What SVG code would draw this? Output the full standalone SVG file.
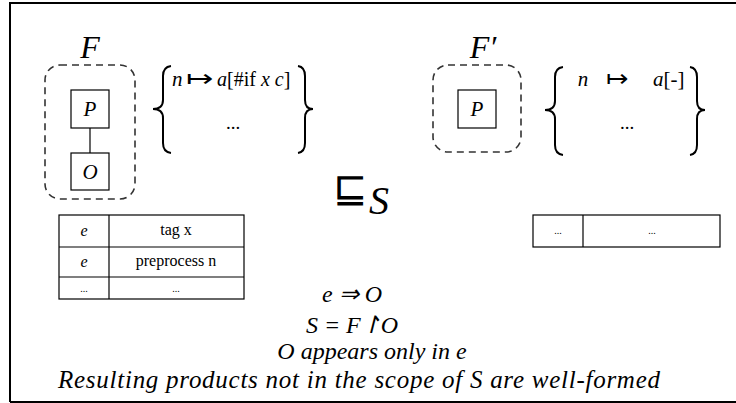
<svg xmlns="http://www.w3.org/2000/svg" width="736" height="403" viewBox="0 0 736 403">
<style>
.dash{fill:none;stroke:#333;stroke-width:1.6;stroke-dasharray:7,5}
.box{fill:#fff;stroke:#000;stroke-width:1.2}
.brace{fill:none;stroke:#000;stroke-width:2}
.it{font-family:"Liberation Serif",serif;font-style:italic;fill:#000}
.rm{font-family:"Liberation Serif",serif;fill:#000}
.cell{fill:#fff;stroke:#000;stroke-width:1.2}
.ln{stroke:#000;stroke-width:1.2}
</style>
<rect x="0" y="0" width="736" height="403" fill="#fff"/>
<path d="M10,402 V3 H736 M10,402 H736" fill="none" stroke="#000" stroke-width="2"/>

<g id="F">
<rect class="dash" x="45" y="65" width="90" height="134" rx="15"/>
<text class="it" x="90" y="58" font-size="32" text-anchor="middle">F</text>
</g>
<g id="connectors">
<line class="ln" x1="90" y1="128" x2="90" y2="153"/>
</g>
<g id="P1">
<rect class="box" x="71" y="90" width="38" height="38"/>
<text class="it" x="90" y="116" font-size="21" text-anchor="middle">P</text>
</g>
<g id="O1">
<rect class="box" x="71" y="153" width="38" height="37"/>
<text class="it" x="90" y="179" font-size="21" text-anchor="middle">O</text>
</g>

<g id="map1">
<path class="brace" d="M171,66 Q163,67 163,76 V100 Q163,109 153,109 Q163,109 163,118 V143 Q163,152 171,153"/>
<path class="brace" d="M298,66 Q305,67 305,76 V100 Q305,109 313,109 Q305,109 305,118 V143 Q305,152 298,153"/>
<text class="it" x="172" y="86" font-size="21">n</text>
<text class="rm" x="186" y="86" font-size="21" textLength="28" lengthAdjust="spacingAndGlyphs">↦</text>
<text class="rm" x="217" y="86" font-size="20"><tspan class="it">a</tspan>[#if <tspan class="it">x c</tspan>]</text>
<text class="rm" x="233" y="129" font-size="19" text-anchor="middle">...</text>
</g>

<g id="F2">
<rect class="dash" x="433" y="65" width="88" height="87" rx="15"/>
<text class="it" x="483" y="58" font-size="32" text-anchor="middle">F′</text>
</g>
<g id="P2">
<rect class="box" x="458" y="90" width="38" height="38"/>
<text class="it" x="477" y="116" font-size="21" text-anchor="middle">P</text>
</g>

<g id="map2">
<path class="brace" d="M563,67 Q555,68 555,77 V101 Q555,110 545,110 Q555,110 555,119 V145 Q555,154 563,155"/>
<path class="brace" d="M690,67 Q697,68 697,77 V101 Q697,110 705,110 Q697,110 697,119 V145 Q697,154 690,155"/>
<text class="it" x="583" y="86" font-size="21" text-anchor="middle">n</text>
<text class="rm" x="606" y="86" font-size="21" textLength="23" lengthAdjust="spacingAndGlyphs">↦</text>
<text class="rm" x="653" y="86" font-size="21"><tspan class="it">a</tspan>[-]</text>
<text class="rm" x="627" y="129" font-size="19" text-anchor="middle">...</text>
</g>

<g id="rel">
<text class="rm" x="333" y="202" font-size="41">⊑</text>
<text class="it" x="369" y="214" font-size="40">S</text>
</g>

<g id="table1">
<rect class="cell" x="59" y="215" width="185" height="84"/>
<line class="ln" x1="109" y1="215" x2="109" y2="299"/>
<line class="ln" x1="59" y1="247" x2="244" y2="247"/>
<line class="ln" x1="59" y1="277" x2="244" y2="277"/>
<text class="it" x="84" y="236" font-size="16" text-anchor="middle">e</text>
<text class="rm" x="176" y="235" font-size="16" text-anchor="middle">tag x</text>
<text class="it" x="84" y="267" font-size="16" text-anchor="middle">e</text>
<text class="rm" x="176" y="266" font-size="16" text-anchor="middle">preprocess n</text>
<text class="rm" x="84" y="292" font-size="10" text-anchor="middle" fill="#555">...</text>
<text class="rm" x="176" y="292" font-size="10" text-anchor="middle" fill="#555">...</text>
</g>

<g id="table2">
<rect class="cell" x="533" y="215" width="187" height="32"/>
<line class="ln" x1="583" y1="215" x2="583" y2="247"/>
<text class="rm" x="558" y="234" font-size="10" text-anchor="middle" fill="#555">...</text>
<text class="rm" x="652" y="234" font-size="10" text-anchor="middle" fill="#555">...</text>
</g>

<g id="notes">
<text class="it" x="352" y="302" font-size="24" text-anchor="middle">e ⇒ O</text>
<text class="it" x="352" y="333" font-size="24" text-anchor="middle">S = F↾O</text>
<text class="it" x="372" y="359" font-size="24" text-anchor="middle">O appears only in e</text>
<text class="it" x="58" y="388" font-size="25" textLength="602" lengthAdjust="spacing">Resulting products not in the scope of S are well-formed</text>
</g>
</svg>
